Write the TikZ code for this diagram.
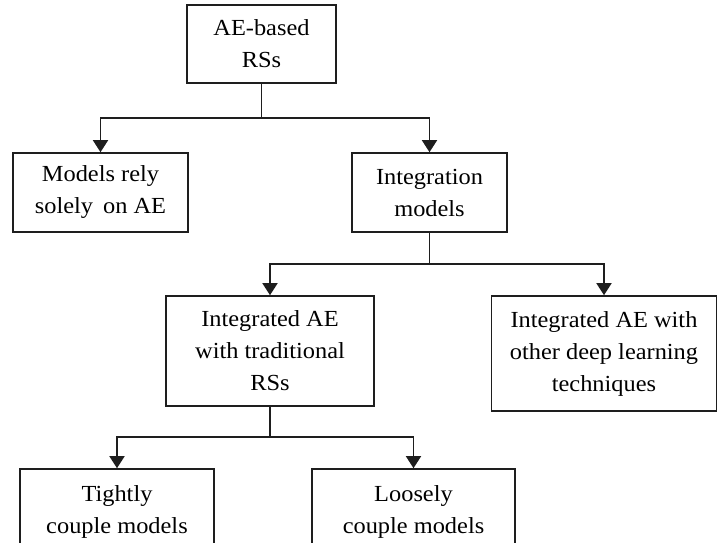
\documentclass[tikz,border=0pt]{standalone}
\usepackage{fontspec}
\setmainfont{Liberation Serif}[FakeStretch=1.06]
\usetikzlibrary{arrows.meta}

\definecolor{aeLine}{RGB}{30,30,30}
\definecolor{aeText}{RGB}{0,0,0}

\tikzset{
  aeBox/.style={draw=aeLine, line width=1.6pt, inner sep=0pt, align=center,
    text=aeText, font=\fontsize{23}{32}\selectfont},
  aeLink/.style={draw=aeLine, line width=1.6pt},
  aeArrow/.style={aeLink, -{Triangle[width=15pt,length=12pt]}}
}

\begin{document}
\begin{tikzpicture}[x=1pt, y=-1pt]
  \clip (0,0) rectangle (718,543);
  % level 0
  \node[aeBox, minimum width=149pt, minimum height=78pt] (root) at (261.5,44) {AE-based\\RSs};
  % level 1
  \node[aeBox, minimum width=175pt, minimum height=79pt] (solely) at (100.5,192.5) {Models rely\\solely\, on AE};
  \node[aeBox, minimum width=155pt, minimum height=79pt] (integ) at (429.5,192.5) {Integration\\models};
  % level 2
  \node[aeBox, minimum width=208pt, minimum height=110pt] (trad) at (270,351) {Integrated AE\\with traditional\\RSs};
  \node[aeBox, minimum width=225pt, minimum height=115pt] (deep) at (604,353.5) {Integrated AE with\\other deep learning\\techniques};
  % level 3 (cut by the page edge)
  \node[aeBox, minimum width=194pt, minimum height=86pt] (tight) at (117,512) {Tightly\\couple models};
  \node[aeBox, minimum width=203pt, minimum height=86pt] (loose) at (413.5,512) {Loosely\\couple models};

  \coordinate (j0) at (261.5,118);
  \coordinate (j1) at (429.5,264);
  \coordinate (j2) at (270,437);

  \draw[aeLink] (root.south) -- (j0);
  \draw[aeArrow] (j0) -| (solely.north);
  \draw[aeArrow] (j0) -| (integ.north);

  \draw[aeLink] (integ.south) -- (j1);
  \draw[aeArrow] (j1) -| (trad.north);
  \draw[aeArrow] (j1) -| (deep.north);

  \draw[aeLink] (trad.south) -- (j2);
  \draw[aeArrow] (j2) -| (tight.north);
  \draw[aeArrow] (j2) -| (loose.north);
\end{tikzpicture}
\end{document}
